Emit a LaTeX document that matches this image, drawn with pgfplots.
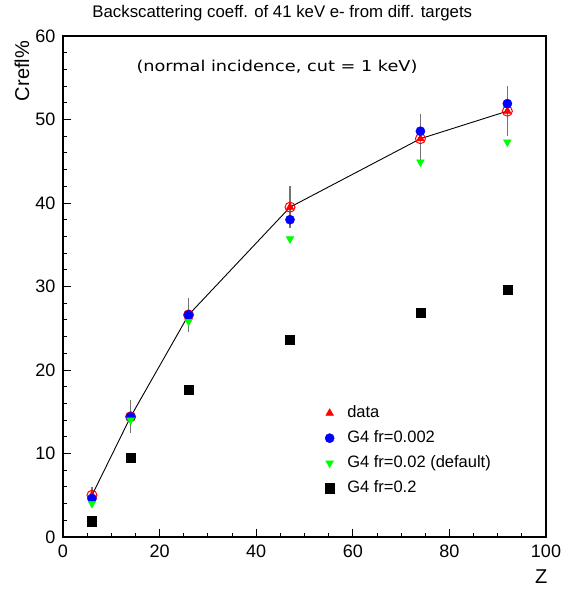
\documentclass[border=0pt]{standalone}
\usepackage{fontspec}
\setmainfont{Liberation Sans}
\newfontfamily\notefont{DejaVu Sans}
\usepackage{graphicx}
\usepackage{pgfplots}
\usepackage{pgfplotstable}
\pgfplotsset{compat=1.18}

% Z, measured coefficient with error, G4 with fr = 0.002 / 0.02 / 0.2
\pgfplotstableread{
Z  data err  fra  frb  frc
6  5.0  1.0  4.6  4.0  1.9
14 14.4 2.0  14.4 14.0 9.5
26 26.6 2.0  26.6 25.8 17.6
47 39.5 2.5  38.0 35.7 23.6
74 47.7 3.0  48.6 44.9 26.9
92 51.0 3.0  51.9 47.3 29.6
}\backscat

\begin{document}
\begin{tikzpicture}
\useasboundingbox (-63bp,-55bp) rectangle (502bp,537bp);
\begin{axis}[
    at={(0,0)}, anchor=south west,
    scale only axis, width=483bp, height=501bp,
    xmin=0, xmax=100, ymin=0, ymax=60,
    xtick={0,20,...,100}, minor x tick num=3,
    ytick={0,10,...,60}, minor y tick num=4,
    tick pos=left, tick align=inside,
    major tick length=8bp, minor tick length=4bp,
    axis line style={line width=1.2bp},
    tick style={black, line width=0.9bp},
    /pgf/number format/assume math mode=true,
    ticklabel style={font=\fontsize{18bp}{20bp}\selectfont},
    xticklabel style={yshift=-4bp},
    yticklabel style={xshift=-4bp},
    title={Backscattering coeff. of 41 keV e- from diff. targets},
    title style={at={(axis description cs:0.454,1.034)}, anchor=center,
        font=\fontsize{16.8bp}{19bp}\selectfont},
    xlabel={Z},
    xlabel style={at={(axis description cs:0.99,-0.08)}, anchor=center,
        font=\fontsize{20bp}{22bp}\selectfont},
    legend style={at={(axis description cs:0.536,0.271)}, anchor=north west,
        draw=none, fill=none, row sep=5.5bp,
        font=\fontsize{16.5bp}{20bp}\selectfont,
        nodes={text height=12bp, text depth=3.5bp, inner sep=2bp},
        /tikz/every odd column/.append style={column sep=11bp}},
    legend cell align=left,
    legend image code/.code={\draw[mark repeat=2,mark phase=2,#1]
        plot coordinates {(0cm,0cm) (0.2cm,0cm) (0.4cm,0cm)};},
]
% error bars of the measurement
\addplot[only marks, mark=none, forget plot,
    error bars/.cd, y dir=both, y explicit, error mark=none,
    error bar style={black!55, line width=1.5bp}]
    table[x=Z, y=data, y error=err] {\backscat};
% line through the data
\addplot[black, line width=0.9bp, mark=none, forget plot]
    table[x=Z, y=data] {\backscat};
% open circle around the data points
\addplot[only marks, mark=o, mark size=5bp, red, line width=1bp, forget plot]
    table[x=Z, y=data] {\backscat};
\addplot[only marks, mark=triangle*, mark size=4.5bp, red]
    table[x=Z, y=data] {\backscat};
\addlegendentry{data}
\addplot[only marks, mark=*, mark size=4.6bp, blue]
    table[x=Z, y=fra] {\backscat};
\addlegendentry{G4 fr=0.002}
\addplot[only marks, mark=triangle*, mark size=4.5bp, green,
    mark options={rotate=180}]
    table[x=Z, y=frb] {\backscat};
\addlegendentry{G4 fr=0.02 (default)}
\addplot[only marks, mark=square*, mark size=4.6bp, black]
    table[x=Z, y=frc] {\backscat};
\addlegendentry{G4 fr=0.2}
\node[font=\notefont\fontsize{15bp}{18bp}\selectfont] at (axis cs:44.3,56.3)
    {\scalebox{1.18}[1]{(normal incidence, cut = 1 keV)}};
\end{axis}
\path (current axis.north west) ++(-41bp,-1.5bp)
    node[rotate=90, anchor=east, font=\fontsize{20bp}{22bp}\selectfont]
    {Crefl\%};
\end{tikzpicture}
\end{document}
